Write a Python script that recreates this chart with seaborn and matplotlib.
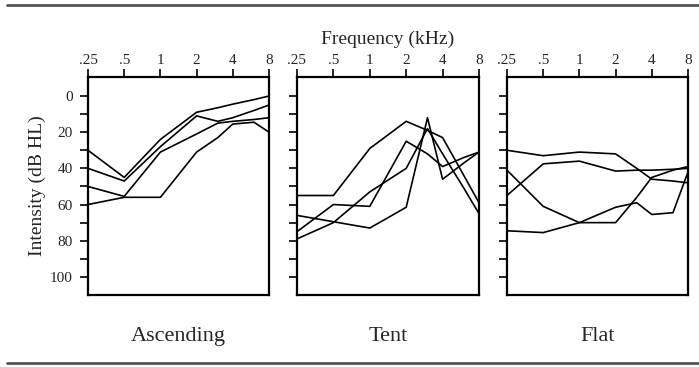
import pandas as pd
import numpy as np
import matplotlib.pyplot as plt
from matplotlib.lines import Line2D
import seaborn as sns

sns.set_style('white')
plt.rcParams['font.family'] = ['Liberation Serif', 'DejaVu Serif']

# 주파수 (kHz)
freqs = [0.25, 0.5, 1, 2, 3, 4, 6, 8]
freq_ticks = [0.25, 0.5, 1, 2, 4, 8]
freq_labels = ['.25', '.5', '1', '2', '4', '8']
db_ticks = [0, 20, 40, 60, 80, 100]

# 청력도 값 (dB HL)
ascending = [
    [30, 45, 24, 9, 6.5, 4.5, 2, 0],
    [40, 47, 28, 11, 14, 12, 8, 5],
    [50, 55.5, 31, 21, 15, 14, 13, 12],
    [60, 56, 56, 31, 23, 15.5, 14.5, 20],
]
tent = [
    [55, 55, 29, 14, 19, 23, 44, 59],
    [66, 69.5, 73, 61.5, 12, 46, 37, 31],
    [75, 60, 61, 25, 32, 39, 34, 31],
    [79, 70, 53, 40, 18, 32, 51, 65],
]
flat = [
    [30, 33, 31, 32, 40, 46, 47, 48],
    [55, 37.5, 36, 41.5, 41, 41, 40.5, 40],
    [41, 61, 70, 70, 56, 45, 41, 39],
    [74.5, 75.5, 70, 61.5, 59, 65.5, 64.5, 42],
]
panel_names = ['Ascending', 'Tent', 'Flat']
panel_data = [ascending, tent, flat]

fig = plt.figure(figsize=(6.99, 3.67), dpi=100)
lefts = [88, 297, 507]
widths = [181, 182, 181]

for i, (name, curves) in enumerate(zip(panel_names, panel_data)):
    ax = fig.add_axes([lefts[i] / 699, 72 / 367, widths[i] / 699, 218 / 367])
    rows = []
    for j, c in enumerate(curves):
        for f, v in zip(freqs, c):
            rows.append({'freq': f, 'db': v, 'id': j})
    df = pd.DataFrame(rows)
    sns.lineplot(data=df, x='freq', y='db', units='id', estimator=None,
                 color='black', linewidth=1.2, ax=ax, legend=False)
    ax.set_xscale('log', base=2)
    ax.set_xlim(0.25, 8)
    ax.set_ylim(110, -10.5)
    ax.xaxis.tick_top()
    ax.set_xticks(freq_ticks)
    ax.set_xticklabels(freq_labels)
    ax.xaxis.set_minor_locator(plt.NullLocator())
    ax.set_yticks(db_ticks)
    ax.set_yticks(np.arange(10, 100, 20), minor=True)
    if i == 0:
        ax.set_yticklabels([str(t) for t in db_ticks])
        ax.set_ylabel('Intensity (dB HL)', fontsize=14, labelpad=3)
    else:
        ax.set_yticklabels([])
        ax.set_ylabel('')
    ax.set_xlabel('')
    ax.tick_params(axis='both', which='both', direction='out', length=6,
                   width=1.2, color='black', labelsize=11)
    ax.tick_params(axis='x', top=True, bottom=False, pad=1)
    ax.tick_params(axis='y', which='both', left=True, pad=5)
    for s in ax.spines.values():
        s.set_color('black')
        s.set_linewidth(1.6)
    ax.text(0.5, -0.145, name, transform=ax.transAxes, ha='center', va='top',
            fontsize=16)
    if i == 1:
        ax.text(0.5, 1.135, 'Frequency (kHz)', transform=ax.transAxes,
                ha='center', va='bottom', fontsize=14)

# 위아래 구분선
fig.add_artist(Line2D([0.01, 1.0], [0.986, 0.986], color='#555555', linewidth=2))
fig.add_artist(Line2D([0.01, 1.0], [0.011, 0.011], color='#555555', linewidth=2))

plt.savefig('out.png', dpi=100)
